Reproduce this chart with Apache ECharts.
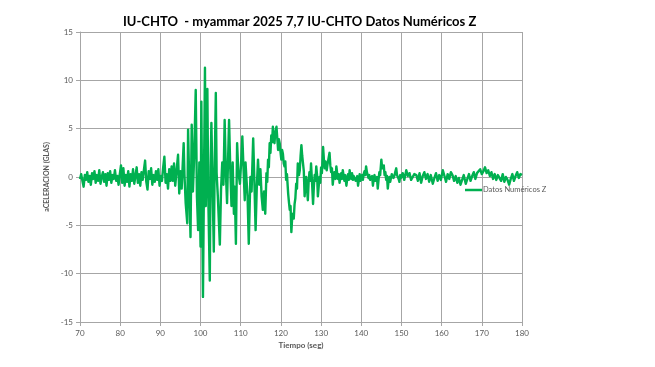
<!DOCTYPE html>
<html>
<head>
<meta charset="utf-8">
<script src="https://cdn.jsdelivr.net/npm/echarts@6/dist/echarts.min.js"></script>
<style>
html,body{margin:0;padding:0;background:#fff;}
#chart{width:655px;height:367px;}
</style>
</head>
<body>
<div id="chart"></div>
<script>
const tituloTexto = 'IU-CHTO  - myammar 2025 7,7 IU-CHTO Datos Numéricos Z';
const nombreSerie = 'Datos Numéricos Z';
const xTicks = [70, 80, 90, 100, 110, 120, 130, 140, 150, 160, 170, 180];
const yTicks = [-15, -10, -5, 0, 5, 10, 15];

// [tiempo (s), aceleración]
const ruidoInicial = [
[70,-0.2],[70.3,0.3],[70.6,-0.4],[70.9,-1.0],[71.2,0.2],[71.5,-0.3],[71.8,0.5],[72.1,-0.5],[72.4,0.1],[72.7,-0.8],
[73,0.4],[73.3,-0.2],[73.6,0.6],[73.9,-0.6],[74.2,0.2],[74.5,-0.4],[74.8,0.7],[75.1,-0.7],[75.4,0.0],[75.7,0.5],
[76,-0.5],[76.3,0.3],[76.6,-0.9],[76.9,0.4],[77.2,-0.3],[77.5,0.6],[77.8,-0.6],[78.1,0.2],[78.4,-0.2],[78.7,0.7],
[79,-0.4],[79.3,0.1],[79.6,-0.8],[79.9,0.3],[80.2,1.2],[80.5,-0.6],[80.8,0.9],[81.1,-0.9],[81.4,0.2],[81.7,-0.5],
[82,0.6],[82.3,-1.0],[82.6,0.3],[82.9,-0.4],[83.2,0.8],[83.5,-0.7],[83.8,0.1],[84.1,1.0],[84.4,-0.6],[84.7,0.3],
[85,-0.9],[85.3,0.5],[85.6,-0.3],[85.9,0.7],[86.2,1.7],[86.5,-0.5],[86.8,-1.3],[87.1,0.6],[87.4,-0.2],[87.7,0.9],
[88,-0.8],[88.3,0.2],[88.6,-0.5],[88.9,0.6],[89.2,-0.3],[89.5,0.8],[89.8,-0.9],[90.1,0.1],[90.4,-0.4],[90.7,1.0],
[91,2.1],[91.3,-0.6],[91.6,0.3],[91.9,-1.2],[92.2,0.8],[92.5,-0.4],[92.8,1.1]
];
const faseIntensa = [
[93.1,-0.4],[93.4,1.4],[93.7,-0.9],[94.0,0.5],[94.4,2.3],[94.7,-1.7],[95.0,0.6],[95.3,-1.2],[95.8,3.5],[96.0,0.2],
[96.3,-2.7],[96.7,-4.8],[96.9,4.9],[97.2,-0.8],[97.5,-6.2],[97.8,5.4],[98.1,-1.5],[98.4,2.0],[98.8,9.0],[99.1,-2.0],
[99.4,-5.5],[99.7,1.5],[100.0,-7.2],[100.2,7.8],[100.4,-2.5],[100.6,-12.4],[100.9,2.0],[101.1,11.3],[101.3,-3.0],[101.5,3.0],
[101.7,9.1],[101.9,-1.5],[102.3,-10.7],[102.5,1.0],[102.7,5.6],[103.0,-1.0],[103.3,-7.7],[103.5,0.5],[103.8,8.7],[104.0,0.4],
[104.3,-2.0],[104.8,-7.0],[105.1,-1.3],[105.4,1.5],[105.7,-0.8],[106.0,5.9],[106.3,0.5],[106.6,-2.7],[106.8,1.0],[107.1,5.9],
[107.4,0.8],[107.7,-3.0],[108.0,1.5],[108.3,-3.8],[108.5,-1.0],[108.8,-6.9],[109.1,3.5],[109.4,0.5],[109.8,-0.7],[110.1,1.5],
[110.4,4.2],[110.7,0.8],[111.0,-2.4],[111.2,1.5],[111.4,0.0],[111.7,-2.0],[112.0,-6.9],[112.4,0.0],[112.7,-1.5],[113.1,4.0],
[113.4,-0.5],[113.7,-5.5],[114.0,-1.0],[114.3,1.8],[114.6,-0.8],[114.9,0.8],[115.2,-2.0],[115.5,-3.4],[115.8,-1.5],[116.1,-3.8],
[116.4,0.4],[116.6,-0.5],[116.8,1.8],[117.0,1.0],[117.2,3.5],[117.4,2.5],[117.6,4.3],[117.8,3.6],[118.0,5.2],[118.2,4.0],
[118.4,3.5],[118.6,4.6],[118.9,5.2],[119.1,4.0],[119.3,2.8],[119.5,3.9],[119.7,3.5],[119.9,2.6],[120.1,1.8],[120.3,2.8],
[120.5,2.4],[120.7,1.4],[120.9,1.1],[121.1,1.6],[121.3,-0.3],[121.5,0.3],[121.8,-1.7]
];
const faseSecundaria = [
[122.0,-2.6],[122.2,-3.4],[122.4,-3.0],[122.6,-5.7],[122.8,-4.2],[123.0,-3.8],[123.2,-4.3],[123.4,-2.8],[123.6,-2.2],[123.8,-0.7],
[124.0,-1.2],[124.2,1.4],[124.5,0.2],[124.7,0.7],[124.9,2.2],[125.1,3.3],[125.3,2.2],[125.5,1.4],[125.7,0.6],[125.9,-2.0],
[126.1,-0.8],[126.3,0.0],[126.5,-1.2],[126.7,-2.4],[126.9,-0.5],[127.1,0.5],[127.3,-0.4],[127.5,1.4],[127.8,-1.0],[128.0,-2.8],
[128.2,-1.0],[128.4,0.2],[128.6,-0.4],[128.8,1.1],[129.0,0.2],[129.2,-2.0],[129.4,-1.0],[129.6,0.0],[129.8,-0.6],[130.0,1.0],
[130.2,0.4],[130.5,3.1],[130.7,1.8],[130.9,0.9],[131.1,1.6],[131.4,0.7],[131.6,1.3],[131.8,1.8],[132.1,2.5],[132.3,1.2],
[132.5,0.5],[132.7,0.9],[132.9,-0.8],[133.1,0.0],[133.3,0.5],[133.6,-0.2],[133.8,1.1],[134.0,0.4],[134.2,-0.2],[134.4,0.3],
[134.6,-0.6],[134.8,0.0],[135.0,0.4],[135.2,-0.2],[135.4,0.7],[135.6,0.1],[135.8,-0.4],[136.0,0.2],[136.3,-0.9],[136.5,-0.2],
[136.7,0.3],[136.9,-0.3],[137.1,0.7],[137.3,0.1],[137.5,-0.2],[137.7,0.4],[137.9,-0.3],[138.1,0.1],[138.4,0.2],[138.6,-0.4],
[138.8,-0.5],[139.0,0.1],[139.2,-0.9],[139.4,-0.3],[139.6,0.3],[139.8,-0.4],[140.0,-0.2],[140.2,0.2],[140.4,-0.3],[140.6,0.3],
[140.8,0.6],[141.0,0.2],[141.2,1.1],[141.4,0.5],[141.6,0.4],[141.8,-0.1],[142.0,0.2],[142.2,-0.3],[142.5,-0.4],[142.7,0.1],
[142.9,-0.9],[143.1,-0.2],[143.3,0.2],[143.5,-0.4],[143.7,-0.5],[143.9,0.0],[144.1,-1.2],[144.3,-0.3],[144.5,0.5],[144.7,0.2],
[145.0,1.8],[145.2,0.9],[145.4,0.8],[145.6,1.2],[145.8,0.2],[146.0,0.5],[146.2,-0.3],[146.4,0.1],[146.6,-1.2],[146.8,-0.4],
[147.0,0.0],[147.2,-0.5],[147.4,-0.3],[147.6,0.3],[147.8,0.5],[148.0,-0.1],[148.3,0.2],[148.5,0.6],[148.7,0.9],[148.9,0.2],
[149.1,0.3],[149.3,-0.2],[149.5,-0.5],[149.7,0.2],[149.9,-0.1]
];
const codaFinal = [
[150.3,0.4],[150.7,-0.3],[151.2,0.7],[151.6,0.1],[152.0,0.4],[152.4,-0.3],[152.8,-0.5],[153.2,0.3],[153.7,0.2],[154.1,-0.4],
[154.5,0.4],[154.9,-0.6],[155.3,0.1],[155.7,0.5],[156.1,-0.2],[156.5,0.3],[156.9,-0.5],[157.3,0.2],[157.8,-0.7],[158.2,-0.1],
[158.6,0.4],[159.0,-0.4],[159.4,0.2],[159.8,-0.3],[160.3,0.7],[160.7,0.1],[161.1,-0.5],[161.5,0.3],[161.9,-0.2],[162.3,0.5],
[162.7,0.2],[163.1,-0.4],[163.5,0.1],[163.9,-0.6],[164.3,-0.1],[164.7,-0.8],[165.1,-0.3],[165.5,0.2],[166.0,-0.7],[166.4,-0.2],
[166.8,0.3],[167.2,-0.4],[167.6,0.1],[168.0,0.5],[168.4,-0.2],[168.8,0.4],[169.2,0.2],[169.6,0.8],[170.0,0.3],[170.4,0.6],
[170.8,1.0],[171.2,0.4],[171.6,0.7],[172.0,0.1],[172.4,0.5],[172.8,-0.2],[173.2,0.3],[173.6,-0.3],[174.0,0.2],[174.4,0.1],
[174.8,-0.4],[175.2,0.3],[175.6,-0.5],[176.0,0.0],[176.4,-0.3],[176.8,-0.8],[177.2,-0.2],[177.6,0.3],[178.0,-0.4],[178.4,0.1],
[178.8,0.5],[179.2,-0.1],[179.6,0.3],[180.0,0.2]
];

const serieDatos = ruidoInicial.concat(faseIntensa, faseSecundaria, codaFinal);

// choose a narrow title font if installed, and size it to the reference width
function medir(font) {
  const c = document.createElement('canvas').getContext('2d');
  c.font = font;
  return c.measureText(tituloTexto).width;
}
let tituloFuente = 'Lato';
const wNarrow = medir('bold 16px "Liberation Sans Narrow", monospace');
const wMono = medir('bold 16px monospace');
if (Math.abs(wNarrow - wMono) > 1) tituloFuente = '"Liberation Sans Narrow"';
const wBase = medir('bold 16px ' + tituloFuente);
const tituloSize = Math.round(16 * 358 / wBase * 2) / 2;

const chart = echarts.init(document.getElementById('chart'), null, {renderer: 'canvas'});
const gris = '#595959';
const fuente = 'Lato, "Open Sans", sans-serif';
chart.setOption({
  animation: false,
  backgroundColor: '#ffffff',
  title: {
    text: tituloTexto,
    left: 118,
    top: 10,
    textStyle: {fontFamily: tituloFuente, fontWeight: 'bold', fontSize: tituloSize, color: '#000000'}
  },
  legend: {
    data: [nombreSerie],
    left: 460,
    top: 181,
    icon: 'rect',
    itemWidth: 17,
    itemHeight: 2.5,
    itemGap: 0,
    textStyle: {fontFamily: fuente, fontSize: 7.5, color: gris, padding: [0, 0, 0, -4]}
  },
  grid: {left: 80, right: 133, top: 32, bottom: 45, containLabel: false},
  xAxis: {
    type: 'value',
    min: xTicks[0],
    max: xTicks[xTicks.length - 1],
    interval: xTicks[1] - xTicks[0],
    name: 'Tiempo (seg)',
    nameLocation: 'middle',
    nameGap: 19,
    nameTextStyle: {fontFamily: fuente, fontWeight: 'bold', fontSize: 8, color: gris},
    axisLine: {onZero: false, lineStyle: {color: '#a6a6a6', width: 1}},
    axisTick: {show: true, length: 4, lineStyle: {color: '#a6a6a6'}},
    axisLabel: {fontFamily: fuente, fontSize: 8, color: gris, margin: 7},
    splitLine: {show: true, lineStyle: {color: '#a6a6a6', width: 1}}
  },
  yAxis: {
    type: 'value',
    min: yTicks[0],
    max: yTicks[yTicks.length - 1],
    interval: yTicks[1] - yTicks[0],
    name: 'aCELERACION (GLAS)',
    nameLocation: 'middle',
    nameGap: 21,
    nameRotate: 90,
    nameTextStyle: {fontFamily: fuente, fontWeight: 'bold', fontSize: 7, color: gris},
    axisLine: {show: true, lineStyle: {color: '#a6a6a6', width: 1}},
    axisTick: {show: true, length: 4, lineStyle: {color: '#a6a6a6'}},
    axisLabel: {fontFamily: fuente, fontSize: 8, color: gris, margin: 7},
    splitLine: {show: true, lineStyle: {color: '#a6a6a6', width: 1}}
  },
  series: [{
    name: nombreSerie,
    type: 'line',
    data: serieDatos,
    showSymbol: false,
    symbol: 'none',
    lineStyle: {color: '#00B050', width: 2.4, join: 'round'},
    itemStyle: {color: '#00B050'},
    z: 3
  }]
});
</script>
</body>
</html>
